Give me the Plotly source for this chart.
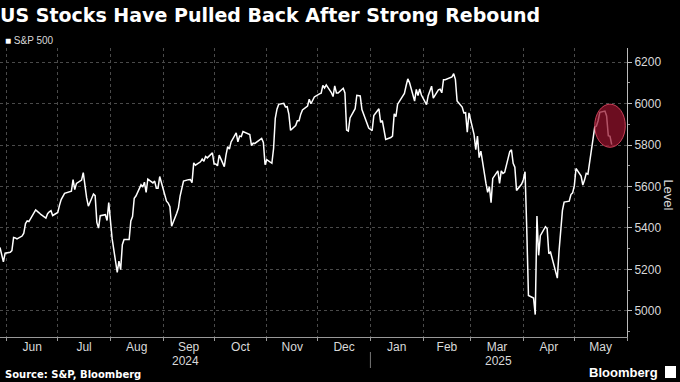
import pandas as pd
import plotly.graph_objects as go

# ---- data: S&P 500 daily closes ----
start_date = "2024-05-28"
end_date = "2025-05-23"
market_holidays = ["2024-06-19", "2024-07-04", "2024-09-02", "2024-11-28", "2024-12-25",
                   "2025-01-01", "2025-01-09", "2025-01-20", "2025-02-17", "2025-04-18"]

may_2024 = [5306, 5267, 5236, 5278]
jun_2024 = [5283, 5291, 5354, 5352, 5347, 5361, 5375, 5421, 5434, 5431, 5473, 5487, 5473,
            5465, 5448, 5469, 5478, 5483, 5460]
jul_2024 = [5475, 5509, 5537, 5567, 5572, 5577, 5633, 5585, 5615, 5631, 5667, 5589, 5545,
            5505, 5564, 5556, 5427, 5399, 5459, 5464, 5436, 5522]
aug_2024 = [5446, 5347, 5186, 5240, 5199, 5319, 5344, 5344, 5434, 5455, 5543, 5554, 5608,
            5597, 5621, 5571, 5635, 5617, 5626, 5592, 5592, 5648]
sep_2024 = [5529, 5520, 5503, 5408, 5471, 5496, 5554, 5596, 5626, 5633, 5634, 5618, 5714,
            5703, 5719, 5732, 5722, 5745, 5738, 5762]
oct_2024 = [5709, 5709, 5700, 5751, 5696, 5751, 5792, 5780, 5815, 5859, 5815, 5843, 5841,
            5865, 5853, 5851, 5797, 5809, 5808, 5823, 5832, 5813, 5705]
nov_2024 = [5729, 5712, 5783, 5929, 5973, 5996, 6001, 5984, 5985, 5949, 5871, 5894, 5917,
            5917, 5949, 5969, 5988, 6021, 5999, 6032]
dec_2024 = [6047, 6050, 6087, 6075, 6090, 6053, 6034, 6085, 6051, 6051, 6074, 6051, 5872,
            5867, 5931, 5975, 6040, 6037, 5971, 5907, 5882]
jan_2025 = [5869, 5942, 5975, 5909, 5918, 5827, 5836, 5843, 5950, 5937, 5997, 6049, 6086,
            6119, 6101, 6012, 6068, 6039, 6071, 6041]
feb_2025 = [5995, 6038, 6061, 6084, 6026, 6066, 6069, 6052, 6115, 6115, 6129, 6144, 6117,
            6013, 5983, 5955, 5956, 5862, 5955]
mar_2025 = [5850, 5778, 5843, 5739, 5770, 5615, 5572, 5599, 5522, 5639, 5675, 5615, 5675,
            5663, 5668, 5768, 5777, 5712, 5693, 5581, 5612]
apr_2025 = [5633, 5671, 5397, 5074, 5062, 4982, 5457, 5268, 5363, 5406, 5397, 5276, 5283,
            5158, 5288, 5376, 5485, 5525, 5529, 5561, 5569]
may_2025 = [5604, 5687, 5650, 5607, 5631, 5664, 5660, 5844, 5886, 5892, 5917, 5958, 5964,
            5940, 5845, 5842, 5802]

y_ticks = [5000, 5200, 5400, 5600, 5800, 6000, 6200]
y_tick_labels = ["5000", "5200", "5400", "5600", "5800", "6000", "6200"]
x_range = ["2024-05-28", "2025-06-01"]
y_range = [4874, 6268]
highlight_x = ["2025-05-13", "2025-05-31"]
highlight_y = [5789, 5997]

closes = (may_2024 + jun_2024 + jul_2024 + aug_2024 + sep_2024 + oct_2024 + nov_2024 +
          dec_2024 + jan_2025 + feb_2025 + mar_2025 + apr_2025 + may_2025)
dates = pd.bdate_range(start_date, end_date, freq="C", holidays=market_holidays)
assert len(dates) == len(closes), (len(dates), len(closes))

TXT = "#d9d9d9"
GRID = "#4a4a4a"
FONT = "Liberation Sans, Arial, sans-serif"
TFONT = "DejaVu Sans, Liberation Sans, sans-serif"

fig = go.Figure()
fig.add_trace(go.Scatter(x=dates, y=closes, mode="lines",
                         line=dict(color="white", width=1.5),
                         name="S&P 500", showlegend=False, hoverinfo="skip"))

fig.update_layout(
    width=680, height=382,
    paper_bgcolor="black", plot_bgcolor="black",
    margin=dict(l=0, r=53, t=48, b=45),
    font=dict(family=FONT, color=TXT, size=12),
    title=dict(text="<b>US Stocks Have Pulled Back After Strong Rebound</b>",
               xref="container", yref="container", x=0.0, y=1 - 15 / 382,
               xanchor="left", yanchor="middle",
               font=dict(family=TFONT, size=19, color="white")),
)

fig.update_xaxes(
    type="date", range=x_range, dtick="M1", tick0="2024-06-01",
    tickformat="%b", ticklabelmode="period", ticklabelstandoff=-4,
    showgrid=True, gridcolor=GRID, griddash="dot", gridwidth=1,
    ticks="outside", ticklen=3, tickcolor="#999",
    showline=True, linecolor="#999", linewidth=1,
    tickfont=dict(size=12, color=TXT), zeroline=False,
)
fig.update_yaxes(
    side="right", range=y_range, tickvals=y_ticks, ticktext=y_tick_labels,
    showgrid=True, gridcolor=GRID, griddash="dot", gridwidth=1,
    ticks="outside", ticklen=4, tickcolor="#bbb",
    minor=dict(dtick=100, tick0=0, ticks="outside", ticklen=2, tickcolor="#999", showgrid=False),
    showline=True, linecolor="#bbb", linewidth=1,
    tickfont=dict(size=12, color=TXT), zeroline=False,
)

# highlight ellipse around the latest pullback
fig.add_shape(type="circle", xref="x", yref="y",
              x0=highlight_x[0], x1=highlight_x[1], y0=highlight_y[0], y1=highlight_y[1],
              fillcolor="rgba(150,18,45,0.72)", line=dict(color="rgba(215,70,95,0.9)", width=1),
              layer="above")

# year labels and separator
t0 = pd.Timestamp(x_range[0]); t1 = pd.Timestamp(x_range[1]); ty = pd.Timestamp("2025-01-01")
fig.add_annotation(x=t0 + (ty - t0) / 2, y=(337 - 361) / 289, xref="x", yref="paper", text="2024",
                   showarrow=False, font=dict(size=12, color=TXT), yanchor="middle")
fig.add_annotation(x=ty + (t1 - ty) / 2, y=(337 - 361) / 289, xref="x", yref="paper", text="2025",
                   showarrow=False, font=dict(size=12, color=TXT), yanchor="middle")
fig.add_shape(type="line", xref="x", yref="paper", x0=ty, x1=ty,
              y0=(337 - 352) / 289, y1=(337 - 368) / 289,
              line=dict(color="#777", width=1))

# legend
fig.add_annotation(xref="paper", yref="paper", x=0.005, y=(337 - 40) / 289, xanchor="left",
                   yanchor="middle", showarrow=False,
                   text="<span style='color:white'>■</span> S&P 500",
                   font=dict(size=10, color=TXT))

# axis title (reads top-to-bottom)
fig.add_annotation(xref="paper", yref="paper", x=669 / 627, y=0.49, text="Level",
                   textangle=90, showarrow=False, font=dict(size=13, color=TXT),
                   xanchor="center", yanchor="middle")

# footer
fig.add_annotation(xref="paper", yref="paper", x=0.005, y=(337 - 374) / 289,
                   xanchor="left", yanchor="middle", showarrow=False,
                   text="<b>Source: S&P, Bloomberg</b>", font=dict(family=TFONT, size=10, color="white"))
fig.add_annotation(xref="paper", yref="paper", x=660 / 627, y=(337 - 372) / 289,
                   xanchor="right", yanchor="middle", showarrow=False,
                   text="<b>Bloomberg</b>", font=dict(size=13, color="white"))
fig.add_shape(type="rect", xref="paper", yref="paper",
              x0=665 / 627, x1=676 / 627, y0=(337 - 378) / 289, y1=(337 - 366) / 289,
              fillcolor="white", line=dict(width=0))

fig.write_html("out.html", config={"displayModeBar": False},
               post_script="document.body.style.margin='0';document.body.style.padding='0';")
